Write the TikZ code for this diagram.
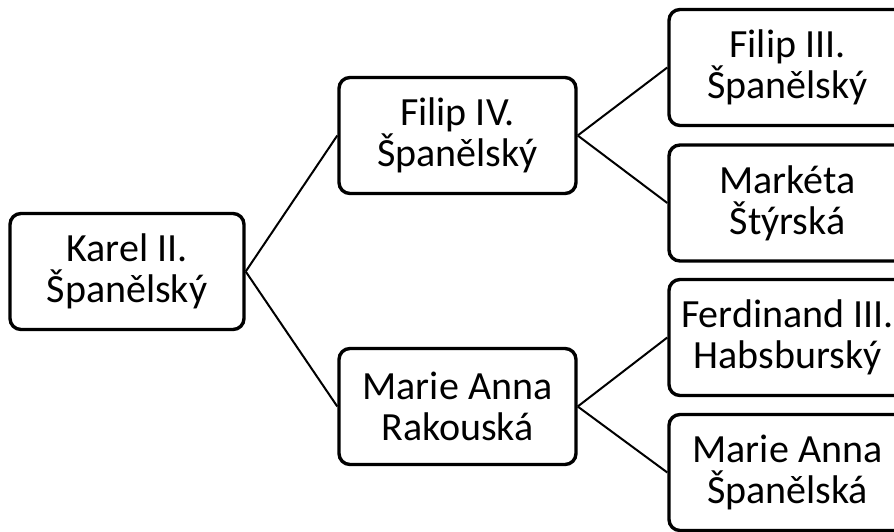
\documentclass[tikz,border=0pt]{standalone}
\usepackage{fontspec}
\setmainfont{Carlito}
\begin{document}
\begin{tikzpicture}[x=1pt,y=-1pt,
  person/.style={draw=black, line width=3.4pt, rounded corners=11pt,
    minimum width=237pt, minimum height=116pt, align=center, inner sep=0pt,
    font=\fontsize{40}{41}\selectfont},
  link/.style={draw=black, line width=2pt}]
  % page area; the right column runs past its edge
  \clip (0,0) rectangle (894,532);
  \fill[white] (0,0) rectangle (894,532);

  % generations, left to right
  \node[person, minimum width=234pt] (karel) at (127,271.5) {Karel II.\\Španělský};
  \node[person] (filip4) at (457.5,135.5) {Filip IV.\\Španělský};
  \node[person] (rak) at (457.5,406.5) {Marie Anna\\Rakouská};
  \node[person] (filip3) at (787.5,67.5) {Filip III.\\Španělský};
  \node[person] (marketa) at (787.5,203) {Markéta\\Štýrská};
  \node[person] (ferd) at (787.5,337.5) {Ferdinand III.\\Habsburský};
  \node[person] (mas) at (787.5,472.5) {Marie Anna\\Španělská};

  % parent links
  \draw[link] (karel.east) -- (filip4.west);
  \draw[link] (karel.east) -- (rak.west);
  \draw[link] (filip4.east) -- (filip3.west);
  \draw[link] (filip4.east) -- (marketa.west);
  \draw[link] (rak.east) -- (ferd.west);
  \draw[link] (rak.east) -- (mas.west);
\end{tikzpicture}
\end{document}
